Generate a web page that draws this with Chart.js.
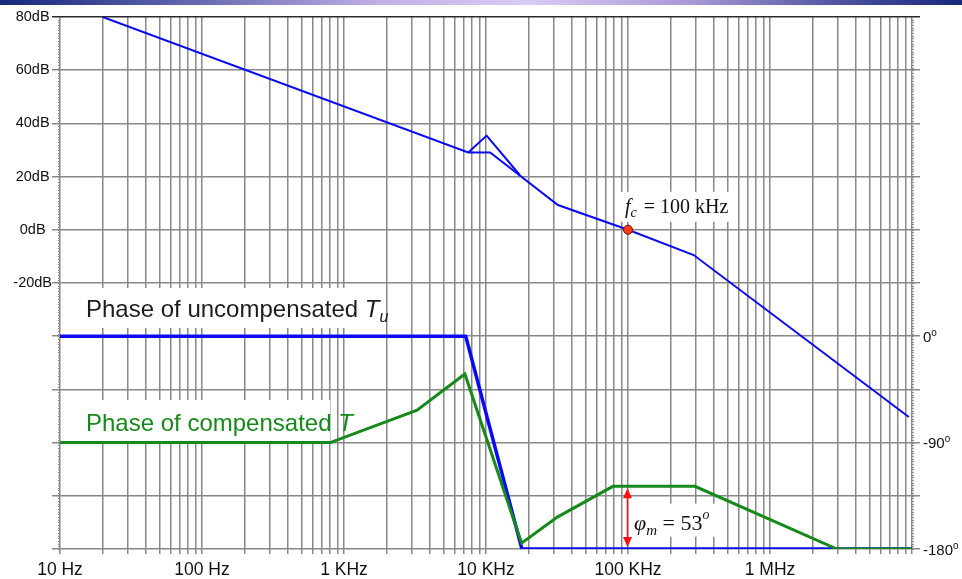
<!DOCTYPE html>
<html>
<head>
<meta charset="utf-8">
<title>Loop gain Bode plot</title>
<script src="https://cdn.jsdelivr.net/npm/chart.js@4.4.1/dist/chart.umd.min.js"></script>
<style>
  html, body { margin: 0; padding: 0; background: #fff; }
  #wrap { position: relative; width: 962px; height: 579px; overflow: hidden; }
  #band {
    position: absolute; left: 0; top: 0; width: 962px; height: 5px;
    background: linear-gradient(to right, #15287c 0%, #5b60aa 18%, #c3b1e7 40%, #d9cbf3 55%, #a898d5 72%, #4a4f9e 88%, #15287c 100%);
  }
  canvas { position: absolute; left: 0; top: 0; }
</style>
</head>
<body>
<div id="wrap">
  <canvas id="bode" width="962" height="579"></canvas>
  <div id="band"></div>
</div>
<script>
// frequency axis, one labelled line per decade
const decades = [10, 100, 1e3, 1e4, 1e5, 1e6, 1e7];
const decadeLabels = ["10 Hz", "100 Hz", "1 KHz", "10 KHz", "100 KHz", "1 MHz", ""];

// left axis (magnitude) and right axis (phase) labels
const dbTicks = [80, 60, 40, 20, 0, -20];
const phaseTicks = [0, -90, -180];

// |T| asymptotes
const magFreq = [20, 7500, 10700, 32100, 100000, 290000, 9500000];
const magDb   = [80, 29.1, 29.1, 9.3, 0, -9.5, -70.4];

// resonant peak around the double pole
const peakFreq = [7500, 10100, 17300];
const peakDb   = [29.1, 35.4, 20.6];

// crossover frequency and phase margin
const fc = 100000;
const phaseMargin = 53;

// phase of uncompensated Tu
const phaseUFreq = [10, 7200, 17900, 1e7];
const phaseUDeg  = [0, 0, -180, -180];

// phase of compensated T
const phaseTFreq = [10, 800, 3270, 7100, 17800, 31800, 78300, 296000, 2960000, 1e7];
const phaseTDeg  = [-90, -90, -62.5, -32, -175, -153, -127, -127, -180, -180];

const BLUE = "#0a0af2";
const GREEN = "#15891a";
const GRID = "#888888";
const SANS = "'Liberation Sans', Arial, sans-serif";
const SERIF = "'Liberation Serif', 'Times New Roman', serif";

// 1..9 lines in every decade
const xTicks = [];
decades.forEach(d => {
  for (let m = 1; m < 10; m++) if (d * m <= 1e7) xTicks.push(d * m);
});

const pts = (xs, ys) => xs.map((x, i) => ({ x: x, y: ys[i] }));

// draws a run of text pieces (font, shift) from x on one baseline
function richText(ctx, x, y, parts, color) {
  ctx.fillStyle = color;
  ctx.textBaseline = "alphabetic";
  ctx.textAlign = "left";
  parts.forEach(p => {
    ctx.font = p.font;
    ctx.fillText(p.t, x + (p.dx || 0), y + (p.dy || 0));
    x += ctx.measureText(p.t).width + (p.dx || 0);
  });
  return x;
}

const bodeMarks = {
  id: "bodeMarks",
  beforeDatasetsDraw(chart) {
    const ctx = chart.ctx;
    const { left, right } = chart.chartArea;
    const y = chart.scales.y, x = chart.scales.x, y1 = chart.scales.y1;
    ctx.save();

    // fine ticks along both vertical edges, one per dB
    ctx.fillStyle = "#8a8a8a";
    for (let v = -120; v <= 80; v++) {
      const py = Math.round(y.getPixelForValue(v));
      ctx.fillRect(left - 2, py, 2, 1);
      ctx.fillRect(right, py, 2, 1);
    }

    // white panels behind the labels
    ctx.fillStyle = "#fff";
    ctx.fillRect(62, 288, 324, 40);
    ctx.fillRect(62, 400, 268, 41);

    const px = x.getPixelForValue(fc);
    const py0 = y.getPixelForValue(0);
    ctx.fillRect(px - 10, py0 - 38, 114, 30);

    const yTop = y1.getPixelForValue(-180 + phaseMargin);
    const yBot = y1.getPixelForValue(-180);
    const mid = (yTop + yBot) / 2;
    ctx.fillRect(px + 4, mid - 14, 84, 33);

    // phase curve captions
    richText(ctx, 86, 317, [
      { t: "Phase of uncompensated ", font: "24px " + SANS },
      { t: "T", font: "italic 24px " + SANS },
      { t: "u", font: "italic 16px " + SANS, dy: 5 }
    ], "#1c1c1c");
    richText(ctx, 86, 431, [
      { t: "Phase of compensated ", font: "24px " + SANS },
      { t: "T", font: "italic 24px " + SANS }
    ], GREEN);

    // crossover label
    richText(ctx, px - 3, py0 - 17, [
      { t: "f", font: "italic 20px " + SERIF },
      { t: "c", font: "italic 14px " + SERIF, dy: 4 },
      { t: " = 100", font: "20px " + SERIF, dx: 2 },
      { t: " kHz", font: "20px " + SERIF }
    ], "#111");

    // phase margin label
    richText(ctx, px + 6, mid + 12, [
      { t: "\u03c6", font: "italic 22px " + SERIF },
      { t: "m", font: "italic 15px " + SERIF, dy: 5 },
      { t: " = 53", font: "22px " + SERIF },
      { t: "o", font: "italic 14px " + SERIF, dy: -11 }
    ], "#111");

    ctx.restore();
  },
  afterDatasetsDraw(chart) {
    const ctx = chart.ctx;
    const x = chart.scales.x, y1 = chart.scales.y1;
    const px = Math.round(x.getPixelForValue(fc)) - 0.5;
    const yTop = y1.getPixelForValue(-180 + phaseMargin) + 2;
    const yBot = y1.getPixelForValue(-180) - 2;
    ctx.save();

    // double-headed arrow for the phase margin
    ctx.strokeStyle = "#ff1010";
    ctx.fillStyle = "#ff1010";
    ctx.lineWidth = 1.5;
    ctx.beginPath();
    ctx.moveTo(px, yTop + 6);
    ctx.lineTo(px, yBot - 6);
    ctx.stroke();
    ctx.beginPath();
    ctx.moveTo(px, yTop);
    ctx.lineTo(px - 4.5, yTop + 10);
    ctx.lineTo(px + 4.5, yTop + 10);
    ctx.closePath();
    ctx.fill();
    ctx.beginPath();
    ctx.moveTo(px, yBot);
    ctx.lineTo(px - 4.5, yBot - 10);
    ctx.lineTo(px + 4.5, yBot - 10);
    ctx.closePath();
    ctx.fill();

    // phase axis labels with a raised small "o"
    phaseTicks.forEach(v => {
      const py = y1.getPixelForValue(v);
      richText(ctx, 923, py + 5.5, [
        { t: String(v), font: "15px " + SANS },
        { t: "o", font: "10px " + SANS, dy: -6 }
      ], "#111");
    });
    ctx.restore();
  }
};

new Chart(document.getElementById("bode"), {
  type: "line",
  data: {
    datasets: [
      { data: [{ x: fc, y: 0 }], yAxisID: "y", showLine: false, pointRadius: 4.5,
        pointBackgroundColor: "#ff3b12", pointBorderColor: "#6b1300", pointBorderWidth: 1, order: 0 },
      { data: pts(phaseTFreq, phaseTDeg), yAxisID: "y1", borderColor: GREEN, borderWidth: 3, order: 1 },
      { data: pts(phaseUFreq, phaseUDeg), yAxisID: "y1", borderColor: BLUE, borderWidth: 3.5, order: 2 },
      { data: pts(magFreq, magDb), yAxisID: "y", borderColor: BLUE, borderWidth: 2, order: 3 },
      { data: pts(peakFreq, peakDb), yAxisID: "y", borderColor: BLUE, borderWidth: 2, order: 3 }
    ]
  },
  options: {
    responsive: false,
    animation: false,
    layout: { padding: { top: 17 } },
    elements: {
      point: { radius: 0, hoverRadius: 0 },
      line: { tension: 0, fill: false }
    },
    plugins: { legend: { display: false }, tooltip: { enabled: false } },
    scales: {
      x: {
        type: "logarithmic", min: 10, max: 1e7,
        afterBuildTicks: s => { s.ticks = xTicks.map(v => ({ value: v })); },
        afterFit: s => { s.height = 30; },
        border: { display: false },
        grid: { color: GRID, lineWidth: 1.5, tickLength: 5 },
        ticks: {
          autoSkip: false, maxRotation: 0, minRotation: 0, padding: 6, color: "#111",
          font: { family: SANS, size: 17.5 },
          callback: v => { const i = decades.indexOf(v); return i < 0 ? "" : decadeLabels[i]; }
        }
      },
      y: {
        position: "left", min: -120, max: 80,
        afterFit: s => { s.width = 60; },
        border: { display: false },
        grid: { color: c => (c.tick && c.tick.value === 80 ? "#2a2a2a" : GRID), lineWidth: 1.5, tickLength: 8 },
        ticks: {
          stepSize: 20, crossAlign: "center", padding: 0, color: "#111",
          font: { family: SANS, size: 14.5 },
          callback: v => (dbTicks.includes(v) ? v + "dB" : "")
        }
      },
      y1: {
        position: "right", min: -180, max: 270,
        afterFit: s => { s.width = 50; },
        border: { display: false },
        grid: { drawOnChartArea: false, color: c => (c.tick && c.tick.value === 270 ? "#2a2a2a" : GRID), lineWidth: 1.5, tickLength: 8 },
        ticks: { stepSize: 45, callback: () => "" }
      }
    }
  },
  plugins: [bodeMarks]
});
</script>
</body>
</html>
